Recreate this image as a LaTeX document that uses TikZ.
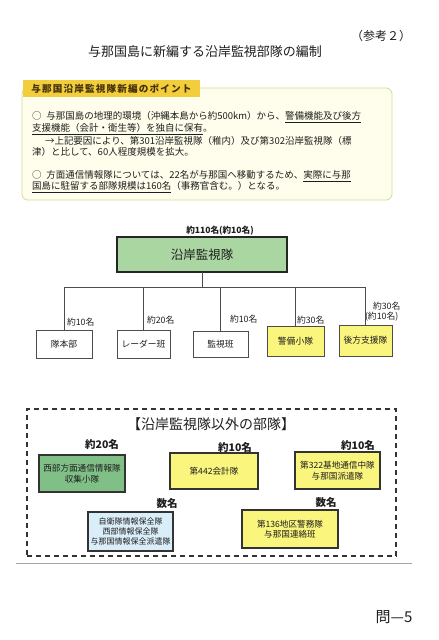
\documentclass[tikz,border=0pt]{standalone}
\usepackage{fontspec}
\setmainfont{Noto Sans CJK JP}
\usetikzlibrary{positioning}
\definecolor{tabgold}{RGB}{242,205,60}
\definecolor{tabtext}{RGB}{70,50,10}
\definecolor{boxcream}{RGB}{255,254,236}
\definecolor{boxedge}{RGB}{212,218,150}
\definecolor{maingreen}{RGB}{170,214,162}
\definecolor{deepgreen}{RGB}{128,192,134}
\definecolor{uyellow}{RGB}{250,245,125}
\definecolor{ublue}{RGB}{218,238,250}
\definecolor{ink}{RGB}{30,30,30}
\begin{document}
\begin{tikzpicture}[x=1pt,y=-1pt,
  every node/.style={inner sep=0pt,outer sep=0pt,text=ink},
  body/.style={anchor=west,font=\fontsize{9.5}{11}\selectfont},
  conn/.style={draw=black!70,line width=0.6pt},
  unitbox/.style={draw=black!70,line width=0.7pt,fill=white,font=\fontsize{8.8}{10}\selectfont},
  cnt/.style={anchor=west,font=\fontsize{8.8}{10}\selectfont},
  obox/.style={draw=black!80,line width=1.1pt,align=center,font=\fontsize{8.6}{10.5}\selectfont},
  ocnt/.style={font=\bfseries\fontsize{10.5}{12}\selectfont}
]
\fill[white] (0,0) rectangle (439,640);
\useasboundingbox (0,0) rectangle (439,640);

% header
\node[anchor=east,font=\fontsize{12}{14}\selectfont] (ref) at (411,36) {（参考２）};
\node[font=\fontsize{13}{15}\selectfont] (title) at (205,52) {与那国島に新編する沿岸監視部隊の編制};

% point box
\node[draw=boxedge,fill=boxcream,line width=0.8pt,rounded corners=6pt,
      minimum width=370pt,minimum height=112pt] (pointbox) at (207,144) {};
\node[fill=tabgold,minimum width=177pt,minimum height=17pt,text=tabtext,
      font=\bfseries\fontsize{9.6}{11}\selectfont\addfontfeature{LetterSpace=12}] (tab) at (111.5,88.5) {与那国沿岸監視隊新編のポイント};

\node[body] (l1) at (32,117) {○\hspace{0.5em}与那国島の地理的環境（沖縄本島から約500km）から、\underline{警備機能及び後方}};
\node[body] (l2) at (32,129) {\underline{支援機能（会計・衛生等）を独自に保有}。};
\node[body] (l3) at (45,141) {→上記要因により、第301沿岸監視隊（稚内）及び第302沿岸監視隊（標};
\node[body] (l4) at (32,152) {津）と比して、60人程度規模を拡大。};
\node[body] (l5) at (32,176) {○\hspace{0.5em}方面通信情報隊については、22名が与那国へ移動するため、\underline{実際に与那}};
\node[body] (l6) at (32,187) {\underline{国島に駐留する部隊規模は160名}（事務官含む。）となる。};

% org chart
\node[font=\bfseries\fontsize{8.6}{10}\selectfont] (topcnt) at (220,231) {約110名(約10名)};
\node[draw=black!85,line width=2pt,fill=maingreen,minimum width=170pt,minimum height=35pt,
      font=\fontsize{12.5}{14}\selectfont] (top) at (202,254.5) {沿岸監視隊};
\coordinate (bus) at (0,287);

\node[unitbox,minimum width=56pt,minimum height=28pt] (b1) at (64,344) {隊本部};
\node[unitbox,minimum width=53pt,minimum height=28pt] (b2) at (143.5,344.5) {レーダー班};
\node[unitbox,minimum width=55pt,minimum height=26pt] (b3) at (220.5,344) {監視班};
\node[unitbox,fill=uyellow,minimum width=57pt,minimum height=30pt] (b4) at (295.5,341) {警備小隊};
\node[unitbox,fill=uyellow,minimum width=53pt,minimum height=31pt] (b5) at (365.5,340.5) {後方支援隊};

\draw[conn] (top.south) -- (top.south |- bus);
\draw[conn] (b1.north |- bus) -- (b5.north |- bus);
\foreach \b in {b1,b2,b3,b4,b5}{\draw[conn] (\b.north) -- (\b.north |- bus);}

\node[cnt] (c1) at (67,322) {約10名};
\node[cnt] (c2) at (147,320) {約20名};
\node[cnt] (c3) at (230,319) {約10名};
\node[cnt] (c4) at (297,320) {約30名};
\node[cnt] (c5a) at (373,306) {約30名};
\node[cnt] (c5b) at (365,317) {(約10名)};

% other units
\node[draw=black!80,dashed,dash pattern=on 5pt off 4pt,line width=1.4pt,
      minimum width=369pt,minimum height=147pt] (others) at (211.5,482.5) {};
\node[font=\fontsize{14}{15}\selectfont] (othtitle) at (211,424) {【沿岸監視隊以外の部隊】};

\node[ocnt] (n1) at (102,444) {約20名};
\node[ocnt] (n2) at (235,447) {約10名};
\node[ocnt] (n3) at (358,445) {約10名};
\node[ocnt] (n4) at (167,503) {数名};
\node[ocnt] (n5) at (326,502) {数名};

\node[obox,fill=deepgreen,minimum width=86pt,minimum height=37pt] (g1) at (82,473.5) {西部方面通信情報隊\\収集小隊};
\node[obox,fill=uyellow,minimum width=88pt,minimum height=36pt] (g2) at (214,471) {第442会計隊};
\node[obox,fill=uyellow,minimum width=85pt,minimum height=37pt] (g3) at (337.5,470.5) {第322基地通信中隊\\与那国派遣隊};
\node[obox,fill=ublue,minimum width=85pt,minimum height=39pt,font=\fontsize{8}{10}\selectfont] (g4) at (130.5,531.5) {自衛隊情報保全隊\\西部情報保全隊\\与那国情報保全派遣隊};
\node[obox,fill=uyellow,minimum width=96pt,minimum height=38pt] (g5) at (290,529) {第136地区警務隊\\与那国連絡班};

\coordinate (edgeL) at (16,563);
\coordinate (edgeR) at (412,563);
\draw[black!35,line width=0.8pt] (edgeL) -- (edgeR);

\node[font=\fontsize{15}{17}\selectfont] (page) at (394,617) {問—5};
\end{tikzpicture}
\end{document}
